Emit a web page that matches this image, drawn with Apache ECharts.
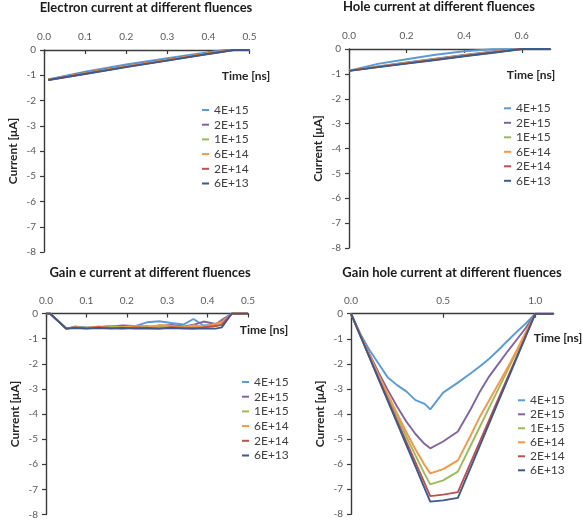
<!DOCTYPE html>
<html><head><meta charset="utf-8">
<script src="https://cdn.jsdelivr.net/npm/echarts@6/dist/echarts.min.js"></script>
<style>html,body{margin:0;padding:0;background:#fff}#c{width:582px;height:524px}</style>
</head><body><div id="c"></div>
<script>
// ---------- data ----------
const fluences = ['4E+15','2E+15','1E+15','6E+14','2E+14','6E+13'];
const yTicks = [0,-1,-2,-3,-4,-5,-6,-7,-8];

// Electron current
const eTime = [0.01, 0.1, 0.2, 0.3, 0.4, 0.44, 0.46, 0.5];
const e_4E15 = [-1.17,-0.86,-0.57,-0.32,-0.09,0,0,0];
const e_2E15 = [-1.18,-0.90,-0.63,-0.37,-0.12,-0.03,0,0];
const e_1E15 = [-1.18,-0.92,-0.65,-0.39,-0.13,-0.04,0,0];
const e_6E14 = [-1.18,-0.93,-0.66,-0.40,-0.14,-0.05,0,0];
const e_2E14 = [-1.19,-0.94,-0.67,-0.41,-0.15,-0.05,0,0];
const e_6E13 = [-1.19,-0.95,-0.68,-0.42,-0.16,-0.06,0,0];
const eTicks = [0,0.1,0.2,0.3,0.4,0.5];

// Hole current
const hTime = [0, 0.1, 0.2, 0.3, 0.4, 0.5, 0.6, 0.7];
const h_4E15 = [-0.87,-0.60,-0.41,-0.23,-0.09,-0.01,0,0];
const h_2E15 = [-0.87,-0.70,-0.54,-0.39,-0.24,-0.10,0,0];
const h_1E15 = [-0.87,-0.71,-0.56,-0.41,-0.26,-0.12,0,0];
const h_6E14 = [-0.87,-0.72,-0.57,-0.42,-0.27,-0.13,0,0];
const h_2E14 = [-0.88,-0.73,-0.58,-0.43,-0.28,-0.14,0,0];
const h_6E13 = [-0.88,-0.73,-0.59,-0.44,-0.29,-0.15,0,0];
const hTicks = [0,0.2,0.4,0.6];

// Gain e current
const gTime = [0,0.01,0.05,0.07,0.1,0.13,0.16,0.19,0.22,0.25,0.28,0.31,0.34,0.365,0.39,0.42,0.435,0.46,0.5];
const g_4E15 = [0,0,-0.6,-0.52,-0.56,-0.55,-0.5,-0.52,-0.5,-0.35,-0.31,-0.38,-0.44,-0.22,-0.48,-0.44,-0.25,0,0];
const g_2E15 = [0,0,-0.6,-0.55,-0.58,-0.56,-0.52,-0.48,-0.5,-0.55,-0.5,-0.46,-0.52,-0.45,-0.32,-0.42,-0.3,0,0];
const g_1E15 = [0,0,-0.6,-0.55,-0.57,-0.55,-0.5,-0.55,-0.52,-0.5,-0.55,-0.52,-0.56,-0.5,-0.55,-0.5,-0.4,0,0];
const g_6E14 = [0,0,-0.6,-0.56,-0.58,-0.52,-0.57,-0.55,-0.5,-0.56,-0.46,-0.5,-0.55,-0.48,-0.52,-0.4,-0.35,0,0];
const g_2E14 = [0,0,-0.6,-0.57,-0.59,-0.55,-0.58,-0.6,-0.56,-0.58,-0.6,-0.55,-0.58,-0.6,-0.55,-0.5,-0.45,0,0];
const g_6E13 = [0,0,-0.6,-0.58,-0.6,-0.58,-0.6,-0.58,-0.6,-0.59,-0.6,-0.58,-0.6,-0.59,-0.6,-0.6,-0.55,0,0];
const gTicks = [0,0.1,0.2,0.3,0.4,0.5];

// Gain hole current
const ghTime = [0,0.05,0.1,0.15,0.2,0.25,0.3,0.35,0.4,0.43,0.5,0.58,0.65,0.7,0.75,0.8,0.85,0.9,0.95,1.0,1.05,1.1];
const gh_4E15 = [0,-0.8,-1.45,-2.0,-2.55,-2.85,-3.1,-3.45,-3.6,-3.82,-3.15,-2.75,-2.38,-2.1,-1.8,-1.45,-1.08,-0.72,-0.38,0,0,0];
const gh_2E15 = [0,-0.82,-1.6,-2.35,-3.05,-3.7,-4.3,-4.8,-5.2,-5.37,-5.1,-4.7,-3.8,-3.1,-2.5,-2.0,-1.5,-1.03,-0.55,0,0,0];
const gh_1E15 = [0,-0.85,-1.68,-2.5,-3.3,-4.1,-4.9,-5.65,-6.4,-6.81,-6.65,-6.3,-5.25,-4.5,-3.75,-3.0,-2.25,-1.5,-0.75,0,0,0];
const gh_6E14 = [0,-0.84,-1.65,-2.45,-3.22,-3.98,-4.72,-5.42,-6.05,-6.37,-6.2,-5.85,-4.85,-4.1,-3.45,-2.8,-2.15,-1.45,-0.72,0,0,0];
const gh_2E14 = [0,-0.86,-1.72,-2.58,-3.42,-4.27,-5.1,-5.93,-6.77,-7.28,-7.22,-7.12,-5.93,-5.08,-4.24,-3.39,-2.54,-1.7,-0.85,0,0,0];
const gh_6E13 = [0,-0.87,-1.74,-2.62,-3.49,-4.36,-5.23,-6.1,-6.98,-7.5,-7.45,-7.35,-6.13,-5.25,-4.38,-3.5,-2.63,-1.75,-0.88,0,0,0];
const ghTicks = [0,0.5,1.0];

// ---------- styling / layout ----------
const colors = ['#5B9BD5','#8064A2','#9BBB59','#F79646','#C0504D','#3C5A8C'];
const FONT = 'Lato, "Open Sans", sans-serif';
const panels = [
  {time:eTime, sets:[e_4E15,e_2E15,e_1E15,e_6E14,e_2E14,e_6E13], ticks:eTicks, max:0.5,
   grid:{left:44, top:50, width:205.5, height:202},
   title:'Electron current at different fluences', tx:146, ty:8,
   xname:[246,76], legend:[197,99,2.7]},
  {time:hTime, sets:[h_4E15,h_2E15,h_1E15,h_6E14,h_2E14,h_6E13], ticks:hTicks, max:0.7,
   grid:{left:349, top:49, width:201.6, height:199},
   title:'Hole current at different fluences', tx:439, ty:7,
   xname:[531,75], legend:[499,97.3,2.5]},
  {time:gTime, sets:[g_4E15,g_2E15,g_1E15,g_6E14,g_2E14,g_6E13], ticks:gTicks, max:0.5,
   grid:{left:46, top:313.5, width:202, height:201},
   title:'Gain e current at different fluences', tx:150, ty:273,
   xname:[264,330], legend:[237,371,2.7]},
  {time:ghTime, sets:[gh_4E15,gh_2E15,gh_1E15,gh_6E14,gh_2E14,gh_6E13], ticks:ghTicks, max:1.1,
   grid:{left:351, top:313.7, width:202.7, height:200.5},
   title:'Gain hole current at different fluences', tx:452, ty:273,
   xname:[558,338], legend:[513,389.3,2]}
];

const option = {animation:false, backgroundColor:'#fff', color:colors,
  grid:[], xAxis:[], yAxis:[], series:[], legend:[], graphic:[]};

panels.forEach((p,i)=>{
  option.grid.push(Object.assign({containLabel:false}, p.grid));
  option.xAxis.push({type:'value', gridIndex:i, position:'top', min:0, max:p.max,
    axisLine:{onZero:false, lineStyle:{color:'#3a3a3a', width:1.4}},
    axisTick:{inside:true, length:4, customValues:p.ticks, lineStyle:{color:'#3a3a3a', width:1.2}},
    axisLabel:{customValues:p.ticks, formatter:v=>v.toFixed(1), color:'#595959', fontSize:10, margin:8, fontFamily:FONT},
    splitLine:{show:false}});
  option.yAxis.push({type:'value', gridIndex:i, min:-8, max:0, interval:1,
    axisLine:{show:true, onZero:false, lineStyle:{color:'#3a3a3a', width:1.4}},
    axisTick:{show:true, inside:false, length:4, lineStyle:{color:'#3a3a3a', width:1.2}},
    axisLabel:{color:'#595959', fontSize:10, margin:8, fontFamily:FONT},
    splitLine:{show:false},
    name:'Current [μA]', nameLocation:'middle', nameGap:25,
    nameTextStyle:{fontWeight:'bold', fontSize:12, color:'#262626', fontFamily:FONT}});
  p.sets.forEach((vals,k)=>{
    option.series.push({type:'line', name:fluences[k], xAxisIndex:i, yAxisIndex:i,
      data:p.time.map((t,j)=>[t, vals[j]]), showSymbol:false, symbol:'none',
      lineStyle:{width:1.9, color:colors[k]}, itemStyle:{color:colors[k]}});
  });
  option.legend.push({orient:'vertical', left:p.legend[0], top:p.legend[1], itemGap:p.legend[2],
    data:fluences, icon:'rect', itemWidth:7, itemHeight:2, selectedMode:false,
    textStyle:{fontSize:12, lineHeight:12, color:'#404040', fontFamily:FONT}});
  option.graphic.push({type:'text', x:p.tx, y:p.ty,
    style:{text:p.title, font:'bold 13px '+FONT, fill:'#1a1a1a', textAlign:'center', textVerticalAlign:'middle'}});
  option.graphic.push({type:'text', x:p.xname[0], y:p.xname[1],
    style:{text:'Time [ns]', font:'bold 12px '+FONT, fill:'#262626', textAlign:'center', textVerticalAlign:'middle'}});
});

const chart = echarts.init(document.getElementById('c'), null, {renderer:'canvas'});
chart.setOption(option);
</script></body></html>
